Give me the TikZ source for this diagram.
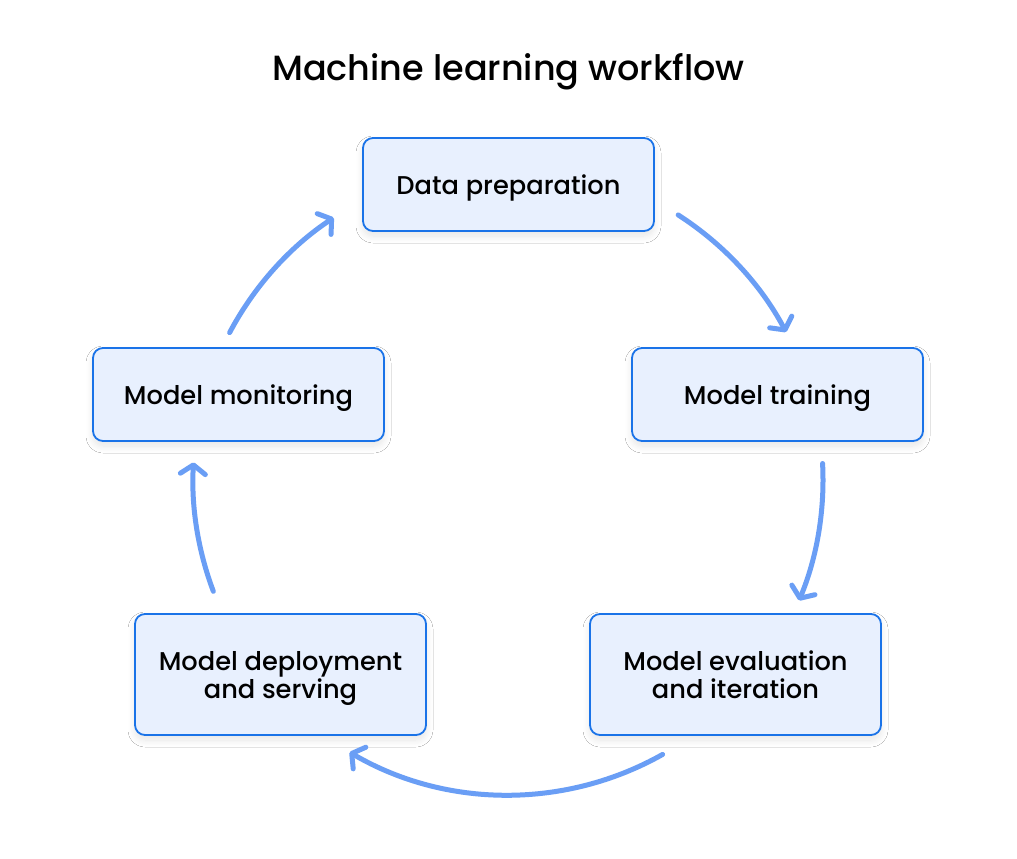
\documentclass[tikz,border=0pt]{standalone}
\usepackage{fontspec}
\setmainfont{Poppins}[UprightFont={* Medium}]
\usetikzlibrary{arrows.meta,calc,shadows.blur}
\definecolor{boxfill}{HTML}{E8F0FE}
\definecolor{boxline}{HTML}{1A73E8}
\definecolor{flowcol}{HTML}{6A9EF5}
\begin{document}
\begin{tikzpicture}[x=1pt,y=-1pt,
  stagebox/.style={draw=boxline, fill=boxfill, line width=1.8pt, rounded corners=10pt,
    minimum width=291pt, minimum height=93pt, inner sep=0pt, align=center, text depth=0pt,
    font=\fontsize{25.7}{28}\selectfont,
    blur shadow={shadow blur steps=10, shadow xshift=0pt, shadow yshift=-5pt, shadow opacity=10, shadow blur radius=7pt}},
  tallbox/.style={stagebox, minimum height=121pt},
  flow/.style={draw=flowcol, line width=5pt, line cap=round,
    -{Straight Barb[length=9pt,width=25pt,round]}}
]
\useasboundingbox (0,0) rectangle (1017,859);
\fill[white] (0,0) rectangle (1017,859);
\node[anchor=base, font=\fontsize{35}{38}\selectfont] (title) at (508.5,81) {Machine learning workflow};
\node[stagebox] (dp) at (508.5,184.5) {Data preparation};
\node[stagebox] (mt) at (777.5,394.5) {Model training};
\node[stagebox] (mm) at (238.5,394.5) {Model monitoring};
\node[tallbox] (me) at (735.5,674.5) {Model evaluation\\and iteration};
\node[tallbox] (md) at (280.5,674.5) {Model deployment\\and serving};
\coordinate (c) at (508,480);
\coordinate (s1) at ($(c)+(-57.3:315)$);
\coordinate (s2) at ($(c)+(-3:315)$);
\coordinate (s3) at ($(c)+(60.6:315)$);
\coordinate (s4) at ($(c)+(159.3:315)$);
\coordinate (s5) at ($(c)+(207.9:315)$);
\draw[flow] (s1) arc[start angle=-57.3, end angle=-28, radius=315];
\draw[flow] (s2) arc[start angle=-3, end angle=22.5, radius=315];
\draw[flow] (s3) arc[start angle=60.6, end angle=120.2, radius=315];
\draw[flow] (s4) arc[start angle=159.3, end angle=183.2, radius=315];
\draw[flow] (s5) arc[start angle=207.9, end angle=236.4, radius=315];
\end{tikzpicture}
\end{document}
